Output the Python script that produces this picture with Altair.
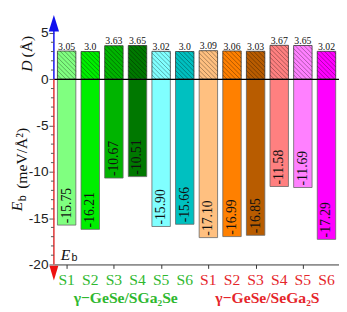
import altair as alt
import pandas as pd

states = ["S1", "S2", "S3", "S4", "S5", "S6"]
group_names = ["γ−GeSe/SGa₂Se", "γ−GeSe/SeGa₂S"]
d_values = [3.05, 3.0, 3.63, 3.65, 3.02, 3.0, 3.09, 3.06, 3.03, 3.67, 3.65, 3.02]
d_labels = ["3.05", "3.0", "3.63", "3.65", "3.02", "3.0", "3.09", "3.06", "3.03", "3.67", "3.65", "3.02"]
eb_values = [-15.75, -16.21, -10.67, -10.51, -15.90, -15.66, -17.10, -16.99, -16.85, -11.58, -11.69, -17.29]
eb_labels = ["-15.75", "-16.21", "-10.67", "-10.51", "-15.90", "-15.66", "-17.10", "-16.99", "-16.85", "-11.58", "-11.69", "-17.29"]
bar_colors = ["#80ff80", "#00ee00", "#00b400", "#007800", "#80ffff", "#00c0c0",
              "#ffc080", "#ff8000", "#b85c00", "#ff8080", "#ff80ff", "#ff00ff"]
y_ticks = [-20, -15, -10, -5, 0, 5]
minor_ticks = [v for v in range(-20, 6) if v % 5 != 0]
GREEN = "#2fb82f"
RED = "#e5262b"
BLUE = "#1010ee"

W, H = 292, 256
XMIN, XMAX = -0.54, 11.53
YMIN, YMAX = -20, 7
HALF = 0.39

n = len(d_values)
all_states = states * 2
df = pd.DataFrame({"i": list(range(n)), "d": d_values, "dl": d_labels,
                   "eb": eb_values, "ebl": eb_labels, "color": bar_colors,
                   "s": all_states, "sc": [GREEN] * 6 + [RED] * 6})
df["x0"] = df["i"] - HALF
df["x1"] = df["i"] + HALF
df["zero"] = 0.0
df["bottom"] = float(YMIN)

# hatch lines for the D bars (derived from the bar values)
kx = W / (XMAX - XMIN)
ky = H / (YMAX - YMIN)
rows = []
step = 4.5
for _, r in df.iterrows():
    u0, u1, h = r.x0 * kx, r.x1 * kx, r.d * ky
    c = u0 + step
    while c < u1 + h:
        ua, ub = max(u0, c - h), min(u1, c)
        rows.append({"hx": ua / kx, "hy": (c - ua) / ky, "hx2": ub / kx, "hy2": (c - ub) / ky})
        c += step
hatch = pd.DataFrame(rows)

xscale = alt.Scale(domain=[XMIN, XMAX], nice=False, zero=False)
yscale = alt.Scale(domain=[YMIN, YMAX], nice=False, zero=False)

xaxis = alt.Axis(values=list(range(n)), labels=False, grid=False, tickSize=4,
                 tickColor="#333", domainColor="#333")
yaxis = alt.Axis(values=y_ticks, labelExpr="'' + datum.value", domain=False, grid=False,
                 tickSize=5, tickColor="#555", labelFont="Liberation Sans", labelFontSize=14,
                 labelColor="#222", labelPadding=1)

base = alt.Chart(df)
bars_pos = base.mark_rect(stroke="#333", strokeWidth=0.8).encode(
    x=alt.X("x0:Q", scale=xscale, axis=xaxis, title=None), x2="x1:Q",
    y=alt.Y("zero:Q", scale=yscale, axis=yaxis, title=None), y2="d:Q",
    color=alt.Color("color:N", scale=None))
bars_neg = base.mark_rect(stroke="#666", strokeWidth=0.8).encode(
    x=alt.X("x0:Q", title=None), x2="x1:Q",
    y=alt.Y("zero:Q", title=None), y2="eb:Q",
    color=alt.Color("color:N", scale=None))
hatch_layer = alt.Chart(hatch).mark_rule(color="#000", opacity=0.55, strokeWidth=0.6).encode(
    x=alt.X("hx:Q", title=None), x2="hx2:Q", y=alt.Y("hy:Q", title=None), y2="hy2:Q")

zero_line = alt.Chart(pd.DataFrame({"z": [0.0]})).mark_rule(color="black", strokeWidth=1.3).encode(
    y=alt.Y("z:Q", title=None))

axis_lines = pd.DataFrame({"a": [0.0, 0.0], "b": [5.4, -20.0], "c": [BLUE, "#e03030"]})
axis_layer = alt.Chart(axis_lines).mark_rule(strokeWidth=1.5).encode(
    x=alt.value(0), y=alt.Y("a:Q", title=None), y2="b:Q", color=alt.Color("c:N", scale=None))

arrow_up = alt.Chart(pd.DataFrame({"y": [6.05]})).mark_point(
    shape="M-0.62,1L0,-1L0.62,1Z", size=289, filled=True, opacity=1, color=BLUE).encode(
    x=alt.value(0), y=alt.Y("y:Q", title=None))
arrow_dn = alt.Chart(pd.DataFrame({"y": [-20.94]})).mark_point(
    shape="M-0.6,-1L0,1L0.6,-1Z", size=230, filled=True, opacity=1, color="#ee1111").encode(
    x=alt.value(0), y=alt.Y("y:Q", title=None))

minor = alt.Chart(pd.DataFrame({"m": minor_ticks})).mark_rule(color="#555", strokeWidth=1).encode(
    x=alt.value(-3), x2=alt.value(0), y=alt.Y("m:Q", title=None))

top_text = base.mark_text(font="Liberation Serif", fontSize=10, baseline="alphabetic",
                          dy=-1.5, color="#111").encode(
    x=alt.X("i:Q", title=None), y=alt.Y("d:Q", title=None), text="dl:N")
bot_text = base.mark_text(font="Liberation Serif", fontSize=14, angle=270, align="left",
                          baseline="middle", dx=2, color="#111").encode(
    x=alt.X("i:Q", title=None), y=alt.Y("eb:Q", title=None), text="ebl:N")

s_text = base.mark_text(font="Liberation Serif", fontSize=16, baseline="alphabetic", dy=21).encode(
    x=alt.X("i:Q", title=None), y=alt.Y("bottom:Q", title=None), text="s:N",
    color=alt.Color("sc:N", scale=None))

groups = pd.DataFrame({"gx": [2.5, 8.5], "gy": [-20.0, -20.0], "g": group_names, "gc": [GREEN, RED]})
group_text = alt.Chart(groups).mark_text(font="Liberation Serif", fontSize=16, fontWeight="bold",
                                         baseline="alphabetic", dy=39).encode(
    x=alt.X("gx:Q", title=None), y=alt.Y("gy:Q", title=None), text="g:N",
    color=alt.Color("gc:N", scale=None))


def rot_text(txt, yv, px, size, style="normal", font="Liberation Serif"):
    return alt.Chart(pd.DataFrame({"t": [txt], "y": [yv]})).mark_text(
        font=font, fontSize=size, fontStyle=style, angle=270, align="center",
        baseline="alphabetic", color="#111").encode(
        x=alt.value(px), y=alt.Y("y:Q", title=None), text="t:N")


d_title_D = rot_text("D", 1.42, -22, 16, "italic")
d_title_u = rot_text("(Å)", 3.53, -22, 16)
e_title_E = rot_text("E", -13.75, -33, 16, "italic")
e_title_b = rot_text("b", -12.85, -29, 11, font="Liberation Sans")
e_title_u = rot_text("(meV/Å²)", -8.54, -28, 16)

eb_in_E = alt.Chart(pd.DataFrame({"t": ["E"], "y": [-19.5]})).mark_text(
    font="Liberation Serif", fontSize=16, fontStyle="italic", align="left",
    baseline="alphabetic", color="#111").encode(x=alt.value(7), y=alt.Y("y:Q", title=None), text="t:N")
eb_in_b = alt.Chart(pd.DataFrame({"t": ["b"], "y": [-19.6]})).mark_text(
    font="Liberation Sans", fontSize=11, align="left",
    baseline="alphabetic", color="#111").encode(x=alt.value(18), y=alt.Y("y:Q", title=None), text="t:N")

chart = alt.layer(
    bars_pos, bars_neg, hatch_layer, zero_line, axis_layer, minor, arrow_up, arrow_dn,
    top_text, bot_text, s_text, group_text, d_title_D, d_title_u, e_title_E, e_title_b, e_title_u,
    eb_in_E, eb_in_b
).properties(
    width=W, height=H, autosize=alt.AutoSizeParams(type="none"),
    padding={"left": 47, "top": 3, "right": 0, "bottom": 43}
).configure_view(stroke=None)

chart.save("out.html", embed_options={"renderer": "svg", "actions": False})
